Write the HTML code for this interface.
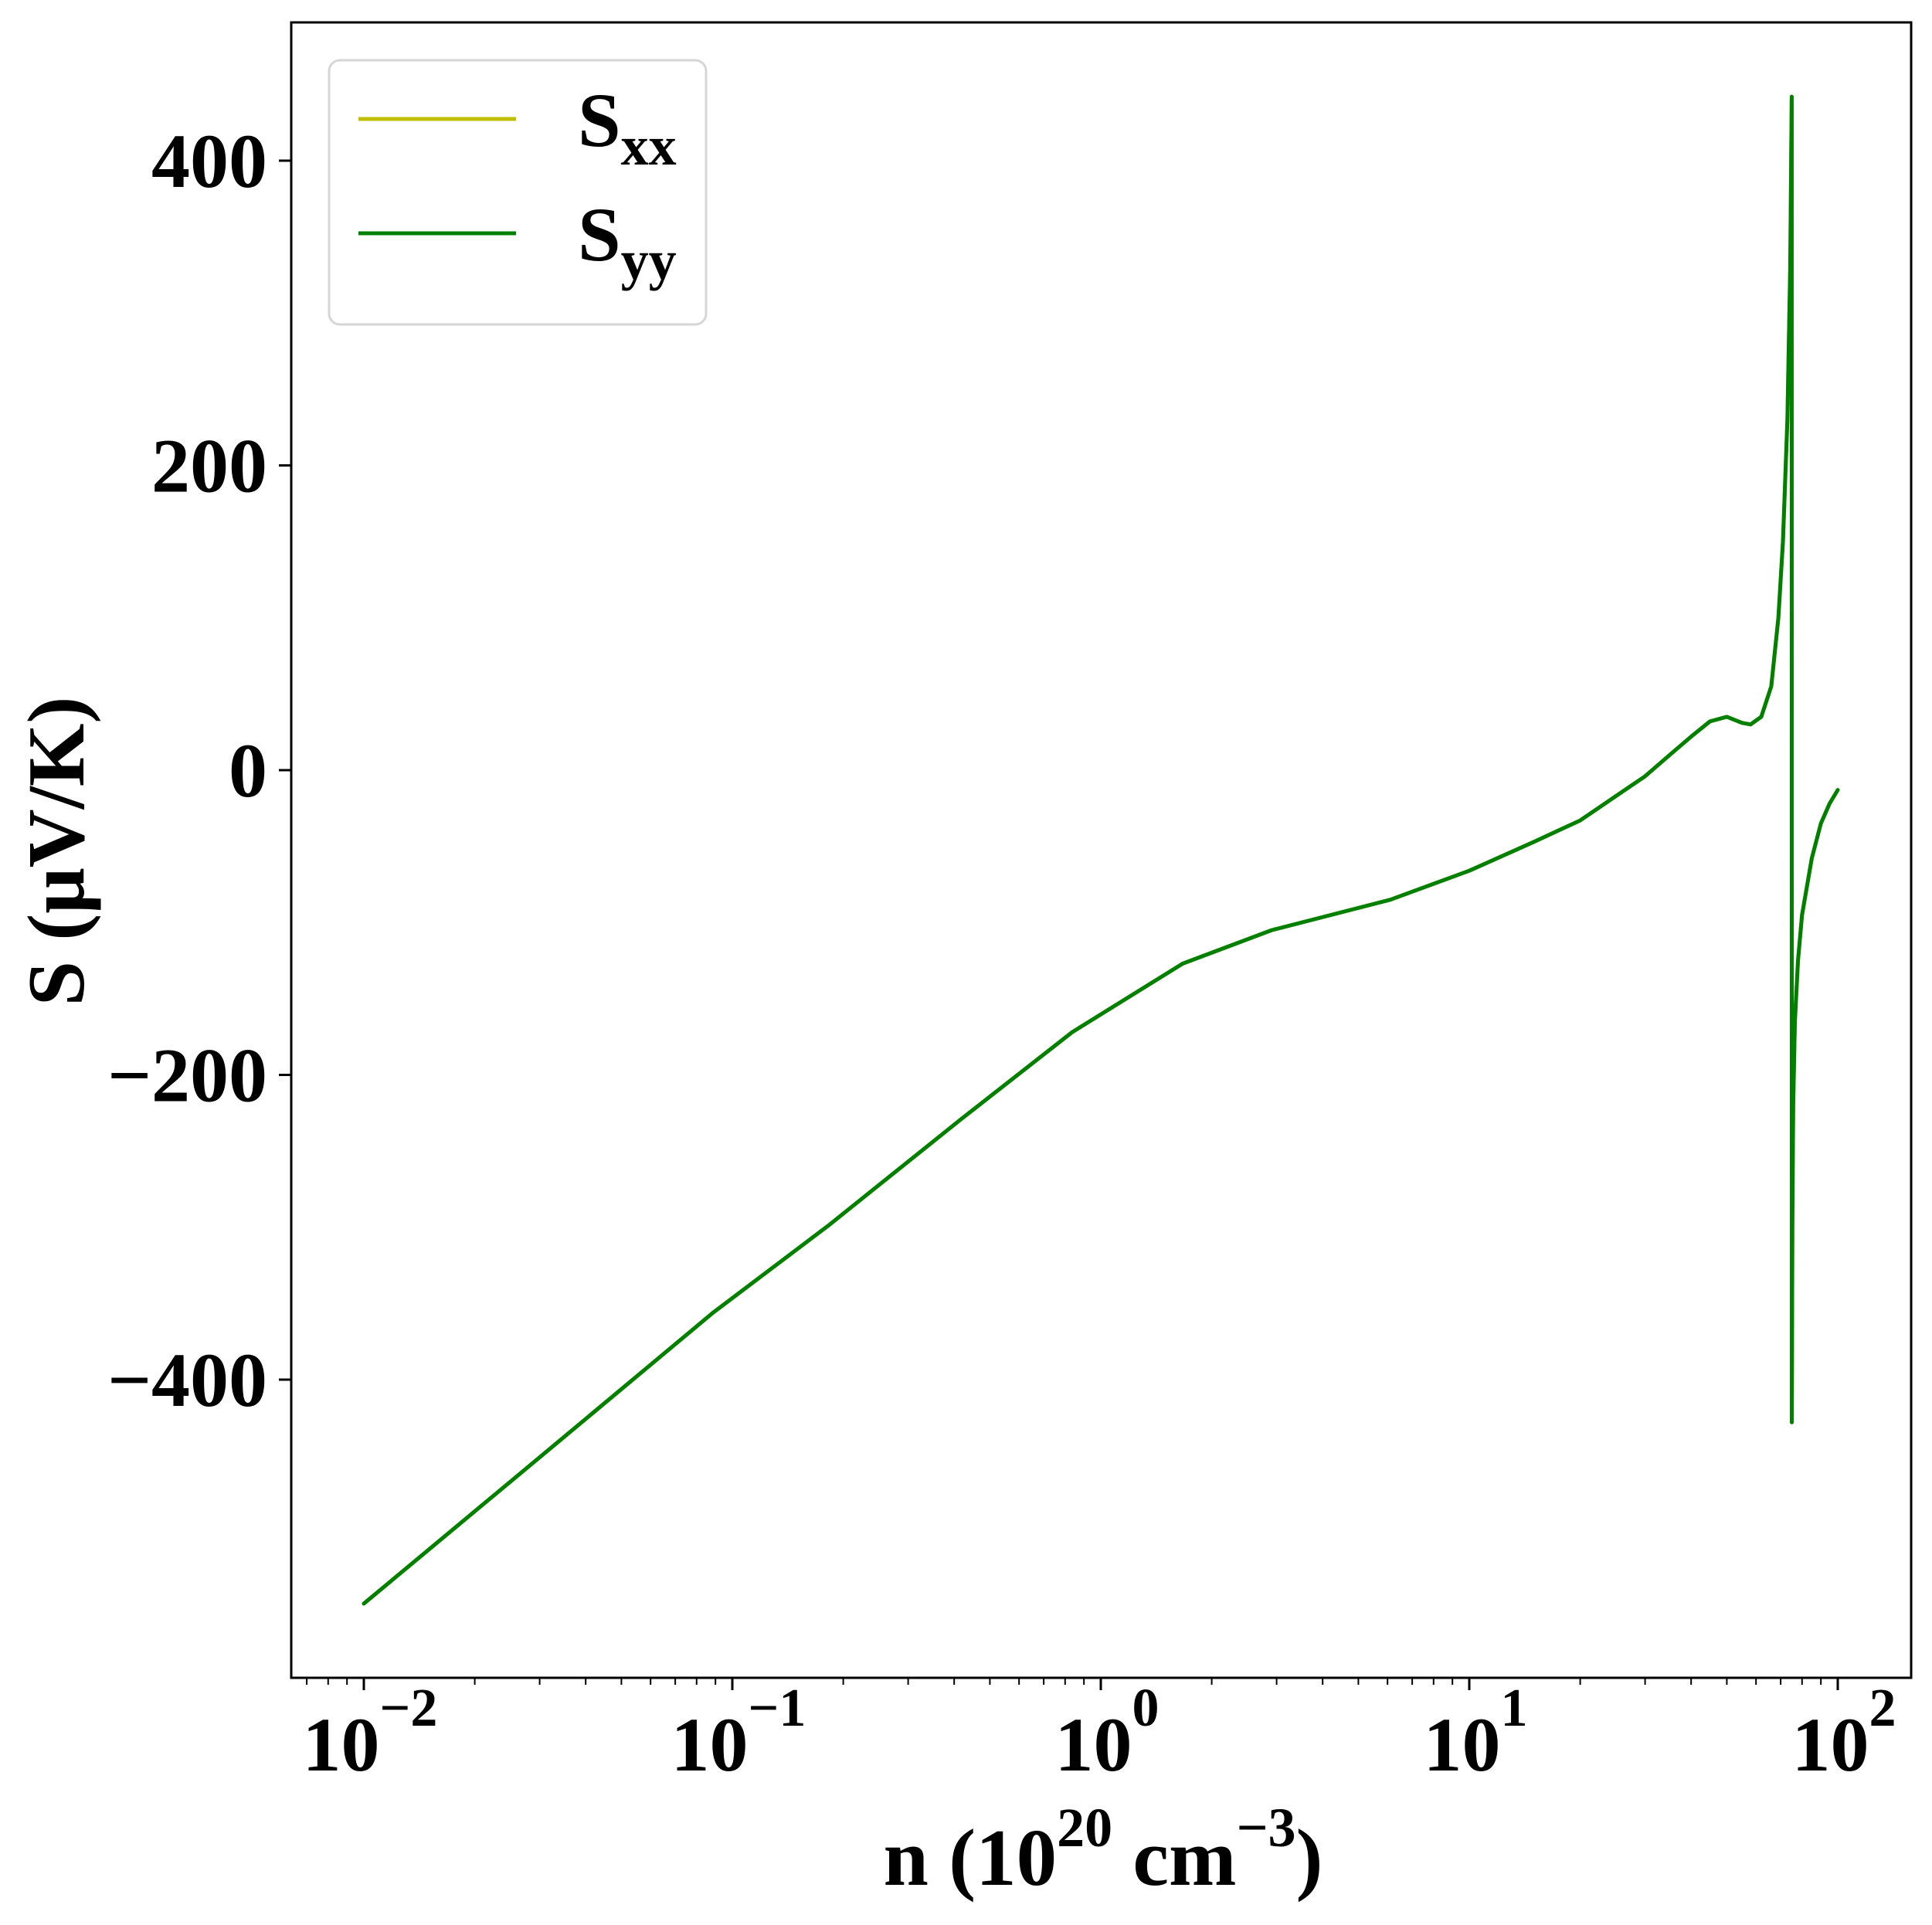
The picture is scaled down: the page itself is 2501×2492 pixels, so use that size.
<!DOCTYPE html>
<html><head><meta charset="utf-8"><style>
html,body{margin:0;padding:0;background:#fff;}
svg{display:block;}
text{font-family:"Liberation Serif","DejaVu Serif",serif;font-weight:bold;fill:#000;}
</style></head><body>
<svg id="chart" width="2501" height="2492" viewBox="0 0 2501 2492" xmlns="http://www.w3.org/2000/svg">
<g id="plot"></g>
<g id="axes"></g>
<g id="legend"></g>
</svg>
<script>
const nValues = [0.01,0.03,0.0887,0.182,0.418,0.836,1.667,2.91,6.11,10,15,20,25,30,35,40,45,50,55,58,62,66,69,71,73,74.3,75,75.05,75.3,75.7,76.5,78,80,85,90,95,100];
const sxxValues = [-547,-451,-356,-299,-229,-172,-127,-105,-85,-66,-47,-33,-17,-4,10,22,32,35,31,30,35,55,100,150,230,330,442,-428,-300,-220,-165,-125,-95,-58,-35,-22,-13];
const syyValues = [-547,-451,-356,-299,-229,-172,-127,-105,-85,-66,-47,-33,-17,-4,10,22,32,35,31,30,35,55,100,150,230,330,442,-428,-300,-220,-165,-125,-95,-58,-35,-22,-13];
const xTickExps = [-2,-1,0,1,2];
const yTicks = [-400,-200,0,200,400];

const NS='http://www.w3.org/2000/svg';
const L=377,R=2474,T=29,B=2172;
const x0=1425, dec=477;
function xs(v){return x0+Math.log10(v)*dec;}
function ys(v){return 997 - v*394.5/200;}
function mk(tag,attrs,parent){const e=document.createElementNS(NS,tag);for(const k in attrs)e.setAttribute(k,attrs[k]);parent.appendChild(e);return e;}
const plot=document.getElementById('plot'),axes=document.getElementById('axes'),leg=document.getElementById('legend');

function series(vals,color,name){
  const d=nValues.map((n,i)=>(i?'L':'M')+xs(n).toFixed(2)+' '+ys(vals[i]).toFixed(2)).join(' ');
  const p=mk('path',{d:d,fill:'none',stroke:color,'stroke-width':5,'stroke-linejoin':'round','stroke-linecap':'round'},plot);
  
  
}
series(sxxValues,'#bfbf00','sxx-line');
series(syyValues,'#008000','syy-line');

const frame=mk('rect',{x:L,y:T,width:R-L,height:B-T,fill:'none',stroke:'#000','stroke-width':3},axes);



for(let e=-3;e<=2;e++){
  for(let m=1;m<10;m++){
    const v=m*Math.pow(10,e);const px=xs(v);
    if(px<L||px>R)continue;
    const major=m===1;
    const t=mk('line',{x1:px,x2:px,y1:B,y2:B+(major?16:9),stroke:'#000','stroke-width':major?3:2},axes);
    
    
  }
}
xTickExps.forEach(e=>{
  const px=xs(Math.pow(10,e));
  const t=mk('text',{x:px+8,y:2292,'text-anchor':'middle','font-size':100},axes);
  
  
  t.textContent='10';
  const s=mk('tspan',{dy:-58,'font-size':70},t);
  s.textContent=(e<0?'\u2212':'')+Math.abs(e);
});
yTicks.forEach(v=>{
  const py=ys(v);
  const t=mk('line',{x1:L-16,x2:L,y1:py,y2:py,stroke:'#000','stroke-width':3},axes);
  
  
  const lb=mk('text',{x:346,y:py+34,'text-anchor':'end','font-size':100},axes);
  
  
  lb.textContent=(v<0?'\u2212':'')+Math.abs(v);
});
const xl=mk('text',{x:1428,y:2440,'text-anchor':'middle','font-size':105},axes);


xl.innerHTML='n (10<tspan dy="-50" font-size="72">20</tspan><tspan dy="50"> cm</tspan><tspan dy="-50" font-size="72">\u22123</tspan><tspan dy="50">)</tspan>';
const yl=mk('text',{x:0,y:0,'text-anchor':'middle','font-size':105,transform:'translate(108,1102) rotate(-90)'},axes);


yl.textContent='S (\u03bcV/K)';

const box=mk('rect',{x:426,y:78,width:488,height:342,rx:14,fill:'#fff',stroke:'#d6d6d6','stroke-width':3},leg);


[['#bfbf00','xx',154,'legend-entry-sxx'],['#008000','yy',302,'legend-entry-syy']].forEach(d=>{
  const g=mk('g',{},leg);
  
  
  mk('line',{x1:464,x2:668,y1:d[2],y2:d[2],stroke:d[0],'stroke-width':5},g);
  const t=mk('text',{x:748,y:d[2]+35,'font-size':100},g);
  t.textContent='S';
  const s=mk('tspan',{dy:24,'font-size':72},t);
  s.textContent=d[1];
});
</script>
</body></html>
